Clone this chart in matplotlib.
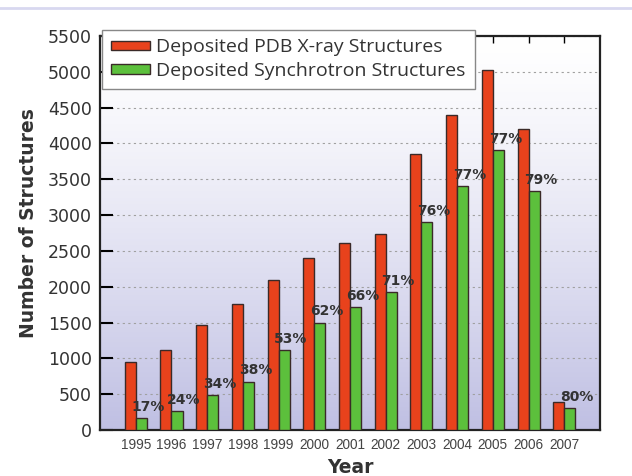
import numpy as np
import matplotlib
matplotlib.use("Agg")
import matplotlib.pyplot as plt
from matplotlib.lines import Line2D

years = ["1995", "1996", "1997", "1998", "1999", "2000", "2001",
         "2002", "2003", "2004", "2005", "2006", "2007"]
xray = [950, 1110, 1460, 1760, 2090, 2400, 2610, 2740, 3850, 4400, 5030, 4200, 385]
synchrotron = [165, 265, 485, 675, 1110, 1500, 1720, 1925, 2905, 3400, 3910, 3330, 305]
percent = ["17%", "24%", "34%", "38%", "53%", "62%", "66%",
           "71%", "76%", "77%", "77%", "79%", "80%"]

red = "#e8421c"
green = "#5cc03c"
edge = "#3a2a28"

fig = plt.figure(figsize=(6.32, 4.76), dpi=100)
ax = fig.add_axes([100 / 632, 46 / 476, 500 / 632, 394 / 476])

# lavender gradient behind the bars
grad = np.linspace(0, 1, 256).reshape(-1, 1)
top_c = np.array([1.0, 1.0, 1.0])
bot_c = np.array([0.75, 0.75, 0.89])
img = top_c + (bot_c - top_c) * grad ** 1.3
ax.imshow(img.reshape(256, 1, 3), extent=[0, 1, 0, 1], transform=ax.transAxes,
          aspect="auto", zorder=0)

x = np.arange(len(years))
w = 0.31
ax.bar(x - w / 2, xray, w, color=red, edgecolor=edge, linewidth=1.0, zorder=3,
       label="Deposited PDB X-ray Structures")
ax.bar(x + w / 2, synchrotron, w, color=green, edgecolor=edge, linewidth=1.0, zorder=3,
       label="Deposited Synchrotron Structures")

for xi, v, p in zip(x, synchrotron, percent):
    ax.annotate(p, (xi + w / 2, v), xytext=(5, 3), textcoords="offset points",
                ha="center", va="bottom", fontsize=10, fontweight="bold",
                color="#333333", zorder=4)

ax.set_xlim(-1, 13)
ax.set_ylim(0, 5500)
ax.set_yticks(np.arange(0, 5501, 500))
ax.set_xticks(x)
ax.set_xticklabels(years, family="Liberation Sans", fontsize=9.8, color="#444444")
ax.tick_params(axis="y", direction="in", length=9, width=1.5, labelsize=12.5,
               labelcolor="#333333", pad=6)
ax.tick_params(axis="x", direction="in", length=5, width=1.0, top=True, bottom=False, pad=6)
ax.yaxis.grid(True, linestyle=(0, (2, 3)), color="#a0a0a0", linewidth=0.8, zorder=1)
ax.set_axisbelow(True)
for s in ax.spines.values():
    s.set_linewidth(1.6)
    s.set_color("#222222")

ax.set_xlabel("Year", fontsize=13.5, fontweight="bold", color="#333333", labelpad=4)
ax.set_ylabel("Number of Structures", fontsize=13.5, fontweight="bold", color="#333333")
ax.yaxis.set_label_coords(-0.124, 0.525)

leg = ax.legend(loc="upper left", bbox_to_anchor=(0.004, 1.016),
                prop={"family": "Open Sans", "size": 14},
                frameon=True, fancybox=False, framealpha=1, edgecolor="#888888",
                handlelength=2.0, handleheight=0.4, borderpad=0.45, labelspacing=0.3,
                handletextpad=0.35, borderaxespad=0)
leg.set_zorder(5)
for t in leg.get_texts():
    t.set_color("#333333")

fig.add_artist(Line2D([0, 1], [1 - 8 / 476, 1 - 8 / 476], transform=fig.transFigure,
                      color="#d8d8f0", linewidth=2))

fig.savefig("out.png", dpi=100)
